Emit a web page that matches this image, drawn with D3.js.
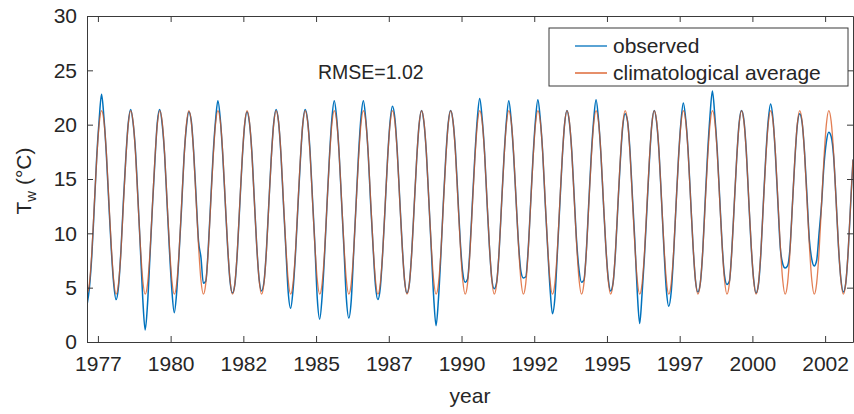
<!DOCTYPE html>
<html>
<head>
<meta charset="utf-8">
<script src="https://cdn.jsdelivr.net/npm/d3@7"></script>
<style>
  html, body { margin: 0; padding: 0; background: #fff; }
  svg { display: block; font-family: "Liberation Sans", Arial, sans-serif; }
</style>
</head>
<body>
<svg id="chart" width="854" height="414"></svg>
<script>
// ---------------- data ----------------
const years = [1977,1978,1979,1980,1981,1982,1983,1984,1985,1986,1987,1988,1989,
               1990,1991,1992,1993,1994,1995,1996,1997,1998,1999,2000,2001,2002,2003];

// climatological average, monthly (Jan..Dec), °C
const climatology = [5.7, 4.4, 5.4, 8.3, 12.6, 16.8, 20.0, 21.3, 20.3, 17.4, 13.1, 8.9];

// observed water temperature, monthly (Jan..Dec) per year, °C
const observed = [
  [null, 3.4, 5.0, 8.0, 12.4, 17.0, 20.4, 22.8, 20.6, 17.2, 12.8, 8.6], // 1977
  [5.4, 3.9, 5.1, 8.4, 12.9, 16.9, 20.1, 21.4, 20.2, 17.6, 13.3, 8.7],  // 1978
  [4.0, 1.1, 3.6, 8.0, 12.5, 16.6, 20.2, 21.4, 20.1, 17.3, 12.9, 8.5],  // 1979
  [4.8, 2.7, 4.6, 8.2, 12.3, 16.9, 19.8, 21.2, 20.4, 17.5, 13.4, 9.3],  // 1980
  [7.8, 5.4, 5.6, 8.5, 12.8, 17.1, 20.3, 22.2, 20.5, 17.2, 13.0, 8.8],  // 1981
  [5.6, 4.5, 5.3, 8.2, 12.5, 16.7, 19.9, 21.2, 20.2, 17.5, 13.2, 8.9],  // 1982
  [5.8, 4.7, 5.5, 8.4, 12.7, 16.9, 20.1, 21.4, 20.3, 17.3, 12.9, 8.7],  // 1983
  [4.6, 3.1, 4.8, 8.1, 12.4, 16.6, 20.0, 21.4, 20.4, 17.6, 13.3, 9.0],  // 1984
  [4.0, 2.1, 4.2, 8.0, 12.6, 17.0, 20.5, 22.2, 20.6, 17.4, 13.0, 8.6],  // 1985
  [4.0, 2.2, 3.8, 8.2, 12.7, 17.2, 20.6, 22.2, 20.5, 17.3, 12.8, 8.8],  // 1986
  [5.2, 3.9, 5.0, 8.3, 12.5, 16.9, 20.2, 21.7, 20.6, 17.5, 13.2, 9.0],  // 1987
  [5.7, 4.5, 5.4, 8.4, 12.6, 16.8, 20.0, 21.3, 20.2, 17.4, 13.1, 8.7],  // 1988
  [4.2, 1.5, 4.0, 8.1, 12.8, 17.0, 20.1, 21.3, 20.3, 17.6, 13.4, 9.2],  // 1989
  [6.4, 5.5, 5.8, 8.6, 12.9, 17.1, 20.5, 22.4, 20.6, 17.5, 13.0, 8.8],  // 1990
  [5.8, 4.9, 5.5, 8.3, 12.6, 16.9, 20.3, 22.2, 20.4, 17.2, 13.1, 9.1],  // 1991
  [6.5, 5.9, 6.0, 8.5, 12.7, 17.0, 20.4, 22.3, 20.5, 17.4, 12.9, 8.8],  // 1992
  [5.0, 2.6, 4.0, 8.0, 12.4, 16.7, 20.0, 21.3, 20.2, 17.5, 13.3, 9.2],  // 1993
  [6.6, 5.5, 5.7, 8.4, 12.8, 17.1, 20.4, 22.3, 20.5, 17.3, 13.0, 8.9],  // 1994
  [5.9, 4.7, 5.4, 8.2, 12.5, 16.6, 19.8, 21.0, 20.3, 17.6, 13.4, 9.3],  // 1995
  [4.6, 1.7, 4.5, 8.0, 12.3, 16.6, 20.0, 21.3, 20.2, 17.4, 13.1, 8.6],  // 1996
  [4.8, 3.3, 4.6, 8.1, 12.6, 16.9, 20.2, 22.0, 20.5, 17.5, 13.2, 8.9],  // 1997
  [5.7, 4.6, 5.4, 8.3, 12.9, 17.3, 20.8, 23.1, 20.8, 17.6, 13.3, 9.0],  // 1998
  [6.1, 5.3, 5.6, 8.4, 12.6, 16.8, 20.1, 21.3, 20.4, 17.5, 13.0, 8.8],  // 1999
  [5.8, 4.5, 5.3, 8.2, 12.7, 17.0, 20.3, 21.9, 20.5, 17.2, 12.9, 8.7],  // 2000
  [7.2, 6.8, 7.0, 8.6, 12.6, 16.7, 19.9, 21.0, 20.2, 17.5, 13.5, 9.4],  // 2001
  [7.6, 7.0, 7.5, 10.0, 12.6, 16.2, 18.4, 19.3, 18.9, 17.1, 13.2, 8.8], // 2002
  [5.8, 4.6, 5.4, 8.3, 12.6, 16.8]                                       // 2003
];

const yTicks = [0, 5, 10, 15, 20, 25, 30];
const xTickValues = [1977.5, 1980, 1982.5, 1985, 1987.5, 1990, 1992.5, 1995, 1997.5, 2000, 2002.5];
const xTickLabels = ["1977","1980","1982","1985","1987","1990","1992","1995","1997","2000","2002"];
const seriesNames = ["observed", "climatological average"];
const seriesColors = ["#0072BD", "#D95319"];
const rmseText = "RMSE=1.02";

// ---------------- build series ----------------
const obsPts = [], climPts = [];
years.forEach((yr, i) => {
  observed[i].forEach((v, m) => {
    if (v == null) return;
    const t = yr + (m + 0.5) / 12;
    obsPts.push({t, v});
    climPts.push({t, v: climatology[m]});
  });
});

// ---------------- layout ----------------
const plotL = 87, plotR = 853, plotT = 16, plotB = 342;
const svg = d3.select("#chart");
const axisColor = "#3a3a3a";
const textColor = "#262626";
const fs = 21;

const x = d3.scaleLinear()
  .domain([d3.min(obsPts, d => d.t), d3.max(obsPts, d => d.t)])
  .range([plotL, plotR]);
const y = d3.scaleLinear().domain([0, 30]).range([plotB, plotT]);

svg.append("defs").append("clipPath").attr("id", "clip")
  .append("rect").attr("x", plotL).attr("y", plotT)
  .attr("width", plotR - plotL).attr("height", plotB - plotT);

// lines
const line = d3.line().x(d => x(d.t)).y(d => y(d.v)).curve(d3.curveMonotoneX);
const g = svg.append("g").attr("clip-path", "url(#clip)");
g.append("path").datum(obsPts).attr("d", line)
  .attr("fill", "none").attr("stroke", seriesColors[0]).attr("stroke-width", 1.5);
g.append("path").datum(climPts).attr("d", line)
  .attr("fill", "none").attr("stroke", seriesColors[1]).attr("stroke-width", 1.3)
  .attr("stroke-opacity", 0.75);

// axes
const tickLen = 6;
const xAxis = d3.axisBottom(x).tickValues(xTickValues)
  .tickFormat((d, i) => xTickLabels[i]).tickSizeInner(-tickLen).tickSizeOuter(0).tickPadding(14);
const yAxis = d3.axisLeft(y).tickValues(yTicks).tickSizeInner(-tickLen).tickSizeOuter(0).tickPadding(10);
const xTop = d3.axisTop(x).tickValues(xTickValues).tickFormat("").tickSizeInner(-tickLen).tickSizeOuter(0);
const yRight = d3.axisRight(y).tickValues(yTicks).tickFormat("").tickSizeInner(-tickLen).tickSizeOuter(0);

function styleAxis(sel) {
  sel.selectAll("path").attr("stroke", axisColor).attr("stroke-width", 1);
  sel.selectAll("line").attr("stroke", axisColor).attr("stroke-width", 1);
  sel.selectAll("text").attr("fill", textColor).style("font-size", fs + "px")
    .style("font-family", '"Liberation Sans", Arial, sans-serif');
}
svg.append("g").attr("transform", `translate(0,${plotB})`).call(xAxis).call(styleAxis);
svg.append("g").attr("transform", `translate(${plotL},0)`).call(yAxis).call(styleAxis);
svg.append("g").attr("transform", `translate(0,${plotT})`).call(xTop).call(styleAxis);
svg.append("g").attr("transform", `translate(${plotR},0)`).call(yRight).call(styleAxis);

// axis labels
svg.append("text").attr("x", (plotL + plotR) / 2).attr("y", 403)
  .attr("text-anchor", "middle").attr("fill", textColor).style("font-size", fs + "px").text("year");

const yl = svg.append("text")
  .attr("transform", `translate(31,${(plotT + plotB) / 2 + 2}) rotate(-90)`)
  .attr("text-anchor", "middle").attr("fill", textColor).style("font-size", fs + "px");
yl.append("tspan").text("T");
yl.append("tspan").attr("dy", 5).style("font-size", "15px").text("w");
yl.append("tspan").attr("dy", -5).text(" (°C)");

// RMSE annotation
svg.append("text").attr("x", 318).attr("y", 79).attr("fill", textColor)
  .style("font-size", "19.5px").text(rmseText);

// legend
const lg = svg.append("g");
lg.append("rect").attr("x", 549).attr("y", 28).attr("width", 299).attr("height", 58)
  .attr("fill", "#fff").attr("stroke", axisColor).attr("stroke-width", 1);
const legY = [46, 73];
seriesNames.forEach((n, i) => {
  lg.append("line").attr("x1", 575).attr("x2", 607).attr("y1", legY[i]).attr("y2", legY[i])
    .attr("stroke", seriesColors[i]).attr("stroke-width", 1.3);
  lg.append("text").attr("x", 613).attr("y", legY[i] + 6.5).attr("fill", textColor)
    .style("font-size", fs + "px").text(n);
});
</script>
</body>
</html>
